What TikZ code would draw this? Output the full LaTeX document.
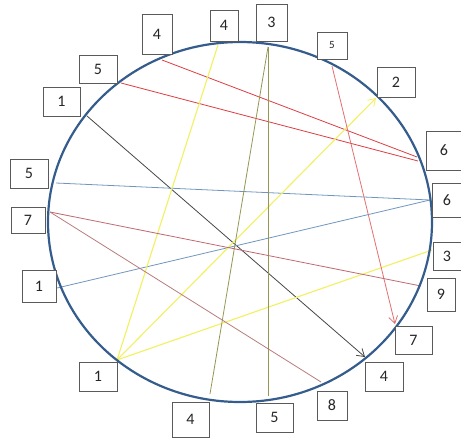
\documentclass[tikz,border=0pt]{standalone}
\usepackage{fontspec}
\setmainfont{Carlito}
\usetikzlibrary{arrows.meta}
\definecolor{ringc}{RGB}{52,92,140}
\definecolor{redc}{RGB}{220,62,66}
\definecolor{yelc}{RGB}{242,240,96}
\definecolor{darkc}{RGB}{70,70,70}
\definecolor{bluec}{RGB}{112,150,190}
\definecolor{olivec}{RGB}{150,150,84}
\definecolor{salmonc}{RGB}{226,112,112}
\definecolor{rosec}{RGB}{192,104,112}
\definecolor{rose2c}{RGB}{184,124,124}
\definecolor{boxc}{RGB}{90,90,90}
\begin{document}
\begin{tikzpicture}[x=1pt,y=-1pt,
  lbl/.style={draw=boxc, line width=0.9pt, fill=white, inner sep=0pt, font=\fontsize{16}{18}\selectfont, text=black!85},
  conn/.style={line width=0.8pt},
  tipA/.style={-{Straight Barb[length=7pt,width=9pt,line width=0.8pt]}}]
\useasboundingbox (0,0) rectangle (461,437);
% points on the ring
\coordinate (r4a) at (162,60);
\coordinate (r5a) at (121,83);
\coordinate (r1a) at (87,116);
\coordinate (r6a) at (417,157);
\coordinate (r6b) at (418,161);
\coordinate (r4e) at (365,357);
\coordinate (r5l) at (56,183);
\coordinate (r6c) at (430,200);
\coordinate (r1l) at (57,288);
\coordinate (r4b) at (218,45);
\coordinate (r1b) at (117,360);
\coordinate (r2) at (376,98);
\coordinate (r3r) at (432,250);
\coordinate (r3t) at (268,47);
\coordinate (r4d) at (210,394);
\coordinate (r5d) at (268,396);
\coordinate (r5t) at (332,66);
\coordinate (r7r) at (395,324);
\coordinate (r7l) at (50,212);
\coordinate (r9) at (421,286);
\coordinate (r8) at (321,382);
% connectors
\draw[conn, redc] (r4a) -- (r6a);
\draw[conn, redc] (r5a) -- (r6b);
\draw[conn, darkc, tipA] (r1a) -- (r4e);
\draw[conn, bluec] (r5l) -- (r6c);
\draw[conn, bluec] (r1l) -- (r6c);
\draw[conn, yelc, line width=1.1pt] (r4b) -- (r1b);
\draw[conn, yelc, line width=1.1pt, tipA] (r1b) -- (r2);
\draw[conn, yelc, line width=1.1pt] (r1b) -- (r3r);
\draw[conn, olivec] (r3t) -- (r4d);
\draw[conn, olivec] (r3t) -- (r5d);
\draw[conn, salmonc, tipA] (r5t) -- (r7r);
\draw[conn, rosec] (r7l) -- (r9);
\draw[conn, rose2c] (r7l) -- (r8);
% ring
\draw[ringc, line width=2.2pt] (240,222) ellipse [x radius=192, y radius=180];
% labels
\node[lbl, minimum width=30pt, minimum height=40pt] (b1) at (157,34) {4};
\node[lbl, minimum width=28pt, minimum height=31pt] (b2) at (224,25.5) {4};
\node[lbl, minimum width=31pt, minimum height=37pt] (b3) at (271.5,22.5) {3};
\node[lbl, minimum width=30pt, minimum height=27pt, font=\fontsize{11}{13}\selectfont] (b4) at (332,45.5) {5};
\node[lbl, minimum width=38pt, minimum height=30pt] (b5) at (396,82) {2};
\node[lbl, minimum width=36pt, minimum height=39pt] (b6) at (444,150.5) {6};
\node[lbl, minimum width=30pt, minimum height=34pt] (b7) at (447,200) {6};
\node[lbl, minimum width=38pt, minimum height=29pt] (b8) at (29,173.5) {5};
\node[lbl, minimum width=37pt, minimum height=29pt] (b9) at (61.5,101.5) {1};
\node[lbl, minimum width=38pt, minimum height=28pt] (b10) at (98,69) {5};
\node[lbl, minimum width=34pt, minimum height=26pt] (b11) at (28,220) {7};
\node[lbl, minimum width=34pt, minimum height=32pt] (b12) at (39,286) {1};
\node[lbl, minimum width=38pt, minimum height=29pt] (b13) at (98,376.5) {1};
\node[lbl, minimum width=37pt, minimum height=35pt] (b14) at (190.5,419.5) {4};
\node[lbl, minimum width=37pt, minimum height=29pt] (b15) at (274.5,417.5) {5};
\node[lbl, minimum width=30pt, minimum height=29pt] (b16) at (332,405.5) {8};
\node[lbl, minimum width=38pt, minimum height=29pt] (b17) at (384,376.5) {4};
\node[lbl, minimum width=37pt, minimum height=28pt] (b18) at (413.5,340) {7};
\node[lbl, minimum width=28pt, minimum height=33pt] (b19) at (441,294.5) {9};
\node[lbl, minimum width=28pt, minimum height=28pt] (b20) at (447,256) {3};
\end{tikzpicture}
\end{document}
